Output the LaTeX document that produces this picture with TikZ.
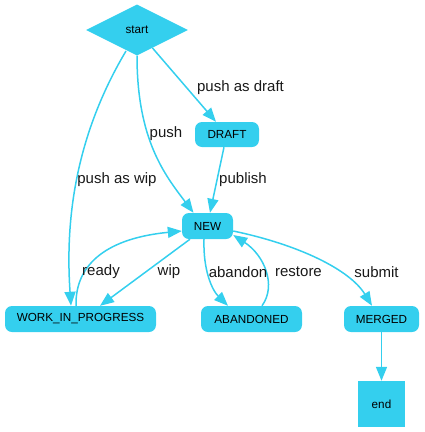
\documentclass[tikz,border=0pt]{standalone}
\usepackage{fontspec}
\setmainfont{Liberation Sans}
\usetikzlibrary{shapes.geometric,arrows.meta}
\definecolor{cy}{RGB}{52,207,238}
\tikzset{
  state/.style={fill=cy, rounded corners=7pt, minimum height=26pt, inner sep=0pt, font=\fontsize{11.7}{13}\selectfont},
  edge/.style={draw=cy, line width=1.5pt, -{Triangle[length=14pt,width=11pt]}},
  lbl/.style={font=\fontsize{15}{17}\selectfont, inner sep=0pt, text=black!90}
}
\begin{document}
\begin{tikzpicture}[x=1pt,y=-1pt]
\useasboundingbox (0,0) rectangle (424,432);
\node[diamond, fill=cy, minimum width=102pt, minimum height=51pt, inner sep=0pt, aspect=2, font=\fontsize{11.7}{13}\selectfont] (start) at (137,30) {start};
\node[state, minimum width=64pt, minimum height=25pt] (draft) at (227,134.5) {DRAFT};
\node[state, minimum width=51pt] (new) at (207.5,226) {NEW};
\node[state, minimum width=151pt] (wip) at (80.5,319) {WORK\_IN\_PROGRESS};
\node[state, minimum width=101pt] (aband) at (251.5,319) {ABANDONED};
\node[state, minimum width=75pt] (merged) at (381.5,319) {MERGED};
\node[fill=cy, minimum width=47pt, minimum height=46pt, inner sep=0pt, font=\fontsize{11.7}{13}\selectfont] (end) at (381.5,404) {end};

\draw[edge] (126,51) .. controls (82,125) and (64,205) .. ([xshift=-9.5pt]wip.north);
\draw[edge] (start.south) .. controls (137,140) and (165,175) .. ([xshift=-14pt]new.north);
\draw[edge] (start) -- ([xshift=-11pt]draft.north);
\draw[edge] ([xshift=-3pt]draft.south) -- ([xshift=2.5pt]new.north);
\draw[edge] ([xshift=-17.5pt]new.south) -- ([xshift=19.5pt]wip.north);
\draw[edge] ([xshift=-4.5pt]wip.north) .. controls (75,262) and (110,238) .. ([yshift=-5pt]new.west);
\draw[edge] ([xshift=-3.5pt]new.south) .. controls (203,270) and (212,290) .. ([xshift=-23.5pt]aband.north);
\draw[edge] ([xshift=10.5pt]aband.north) .. controls (277,285) and (264,255) .. ([yshift=-9pt]new.east);
\draw[edge] ([yshift=-5pt]new.east) .. controls (300,245) and (350,270) .. ([xshift=-9.5pt]merged.north);
\draw[edge] (merged) -- (end);

\node[lbl] (l1) at (117,180) {push as wip};
\node[lbl] (l2) at (166,134) {push};
\node[lbl] (l3) at (240.5,88) {push as draft};
\node[lbl] (l4) at (243,180) {publish};
\node[lbl] (l5) at (101,272) {ready};
\node[lbl] (l6) at (169,272) {wip};
\node[lbl] (l7) at (238,272) {abandon};
\node[lbl] (l8) at (298.5,272) {restore};
\node[lbl] (l9) at (376.5,272) {submit};
\end{tikzpicture}
\end{document}
